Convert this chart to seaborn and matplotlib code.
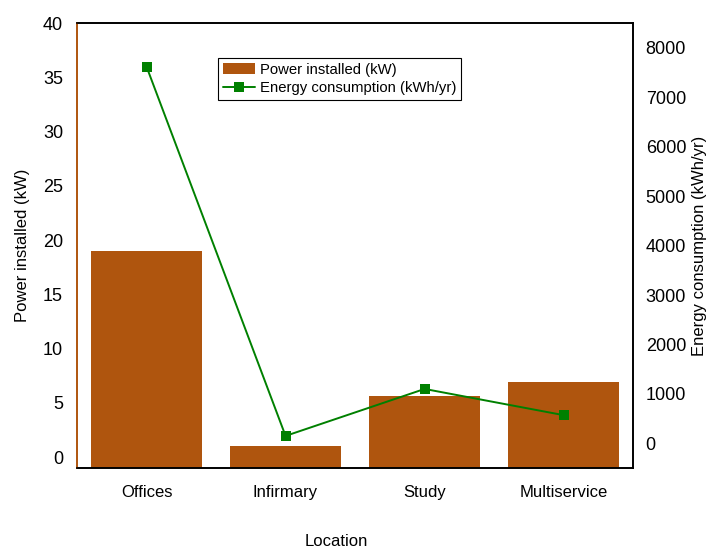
import pandas as pd
import matplotlib
matplotlib.use("Agg")
import matplotlib.pyplot as plt
import seaborn as sns

locations = ["Offices", "Infirmary", "Study", "Multiservice"]
power_kw = [19.0, 1.05, 5.6, 6.9]
energy_kwh = [7620, 150, 1100, 570]

bar_color = "#AF550E"
line_color = "#008000"

sns.set_theme(style="white")
plt.rcParams["font.family"] = ["Liberation Sans", "DejaVu Sans"]
plt.rcParams["text.color"] = "black"
plt.rcParams["axes.labelcolor"] = "black"
plt.rcParams["xtick.color"] = "black"
plt.rcParams["ytick.color"] = "black"

df = pd.DataFrame({"Location": locations, "Power": power_kw, "Energy": energy_kwh})

fig = plt.figure(figsize=(7.13, 5.5), dpi=100)
ax = fig.add_axes([0.108, 0.149, 0.78, 0.809])

sns.barplot(data=df, x="Location", y="Power", color=bar_color, saturation=1,
            width=0.8, ax=ax, label="Power installed (kW)")
ax.set_ylim(-1, 40)
ax.set_xlim(-0.5, 3.5)
# bars rise from the bottom of the axis, like the original
y_low = ax.get_ylim()[0]
for p in ax.patches:
    p.set_height(p.get_height() - y_low)
    p.set_y(y_low)
    p.set_edgecolor("none")

ax2 = ax.twinx()
sns.lineplot(data=df, x="Location", y="Energy", color=line_color, marker="s",
             markersize=7, markeredgewidth=0, linewidth=1.4, ax=ax2,
             label="Energy consumption (kWh/yr)", legend=False)
ax2.set_ylim(-500, 8500)
ax2.set_yticks(range(0, 8001, 1000))
ax.set_yticks(range(0, 41, 5))

ax.set_ylabel("Power installed (kW)", fontsize=12, labelpad=9)
ax.set_xlabel("Location", fontsize=12)
ax.xaxis.set_label_coords(0.466, -0.148)
ax2.set_ylabel("Energy consumption (kWh/yr)", fontsize=12, labelpad=4)

ax.tick_params(axis="y", length=0, pad=10, labelsize=13)
ax.tick_params(axis="x", length=0, pad=12, labelsize=12)
ax2.tick_params(axis="y", length=0, pad=9, labelsize=13)

for a in (ax, ax2):
    for s in a.spines.values():
        s.set_color("black")
        s.set_linewidth(1.2)
ax.spines["left"].set_color(bar_color)
ax2.spines["left"].set_color(bar_color)

h1, l1 = ax.get_legend_handles_labels()
h2, l2 = ax2.get_legend_handles_labels()
leg = ax.legend(h1 + h2, l1 + l2, loc="upper left", bbox_to_anchor=(0.254, 0.921),
                fontsize=10.7, frameon=True, fancybox=False, framealpha=1,
                edgecolor="black", borderpad=0.3, handlelength=2.2,
                handletextpad=0.3, labelspacing=0.3, borderaxespad=0)
leg.get_frame().set_linewidth(0.8)

fig.savefig("out.png", dpi=100)
